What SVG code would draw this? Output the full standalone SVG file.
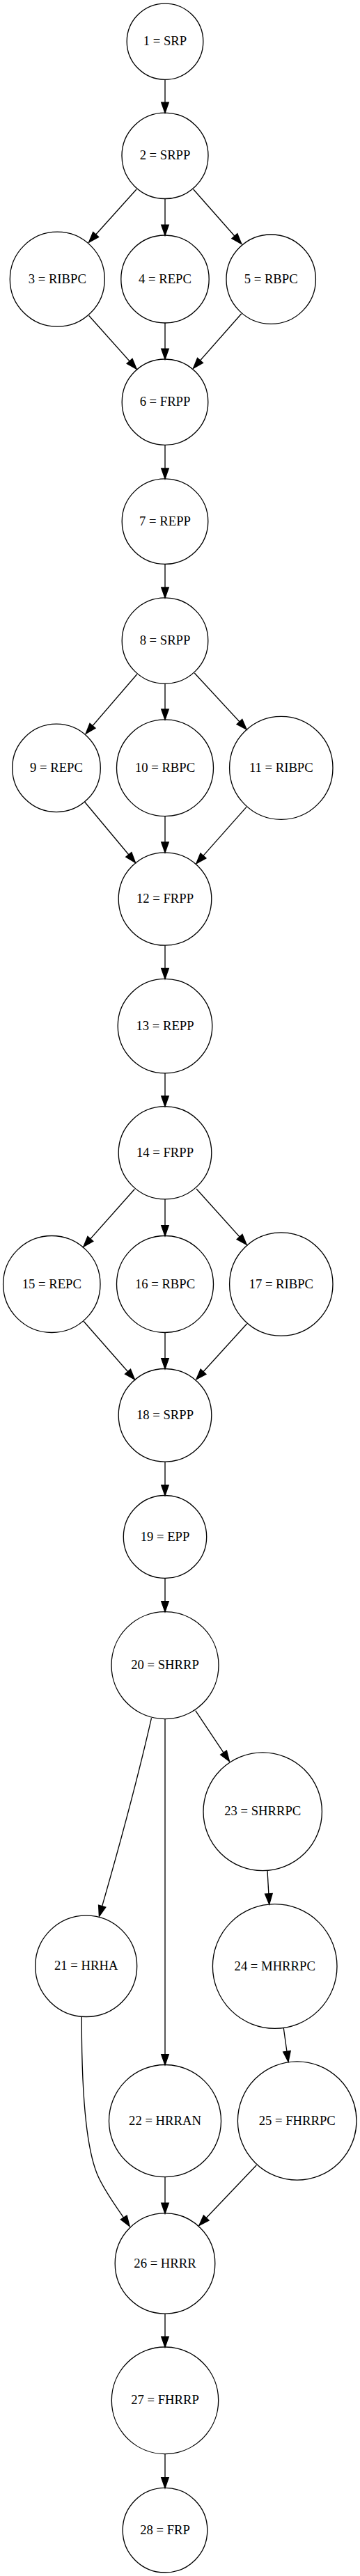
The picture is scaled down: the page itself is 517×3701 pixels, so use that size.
<svg xmlns="http://www.w3.org/2000/svg" width="517" height="3701" viewBox="0 0 517 3701">
<style>
.n ellipse{fill:none;stroke:#000;stroke-width:1.33}
.n text{font-family:"Liberation Serif","Times New Roman",serif;font-size:18.67px;text-anchor:middle;fill:#000}
#edges path{fill:none;stroke:#000;stroke-width:1.33;marker-end:url(#arr)}
</style>
<defs>
<marker id="arr" markerUnits="userSpaceOnUse" markerWidth="20" markerHeight="16" viewBox="-2 -2 18 14" refX="13.3" refY="4.67" orient="auto" overflow="visible">
<path d="M0,0 L13.3,4.67 L0,9.33 Z" fill="#000" stroke="#000" stroke-width="1.33"/>
</marker>
</defs>
<rect width="517" height="3701" fill="#fff"/>
<g id="edges">
<path d="M237,114.3 L237,162.1"/>
<path d="M196,272 L127.7,348"/>
<path d="M237,285.5 L237,338"/>
<path d="M277.7,272 L346.7,350.3"/>
<path d="M127.7,453.5 L196,530"/>
<path d="M237,463.8 L237,516"/>
<path d="M346.7,450.8 L277.7,529"/>
<path d="M237,639.3 L237,687.7"/>
<path d="M237,810.5 L237,858.8"/>
<path d="M196.7,968.8 L123.3,1054"/>
<path d="M237,982.2 L237,1033.8"/>
<path d="M279.3,967 L354,1047.8"/>
<path d="M121.7,1152.2 L194.3,1239.3"/>
<path d="M237,1172.8 L237,1224.8"/>
<path d="M354,1159.4 L282,1240.6"/>
<path d="M237,1358.2 L237,1406.3"/>
<path d="M237,1542 L237,1589.6"/>
<path d="M193.3,1708.5 L120,1791"/>
<path d="M237,1723 L237,1775.4"/>
<path d="M282,1708 L354,1788"/>
<path d="M120,1898.2 L193.3,1981.7"/>
<path d="M237,1914.5 L237,1966.5"/>
<path d="M354.7,1901.8 L282,1981.7"/>
<path d="M237,2100.1 L237,2148.4"/>
<path d="M237,2267.6 L237,2315.6"/>
<path d="M217.5,2468.3 C196,2563 170,2658 142.5,2753"/>
<path d="M237,2469.6 L237,2966.5"/>
<path d="M280.7,2457.6 L329.3,2530.4"/>
<path d="M384,2687.5 L386.7,2735.7"/>
<path d="M117.3,2897.6 C117,2990 122,3080 139.3,3123 C149.7,3148.8 173.1,3178.9 186,3198.3"/>
<path d="M407.3,2914 L414,2962"/>
<path d="M237,3127.7 L237,3180"/>
<path d="M368.3,3110.7 L286,3197.3"/>
<path d="M237,3324.1 L237,3372.1"/>
<path d="M237,3525.5 L237,3574.4"/>
</g>
<g id="n1" class="n"><ellipse cx="237" cy="59.7" rx="54.8" ry="54.6"/><text x="237" y="65.3">1 = SRP</text></g>
<g id="n2" class="n"><ellipse cx="237" cy="223.8" rx="62" ry="61.7"/><text x="237" y="229.4">2 = SRPP</text></g>
<g id="n3" class="n"><ellipse cx="82.3" cy="401.2" rx="68" ry="68"/><text x="82.3" y="406.8">3 = RIBPC</text></g>
<g id="n4" class="n"><ellipse cx="237" cy="401" rx="63.2" ry="63"/><text x="237" y="406.6">4 = REPC</text></g>
<g id="n5" class="n"><ellipse cx="389.2" cy="401.2" rx="64.2" ry="64.2"/><text x="389.2" y="406.8">5 = RBPC</text></g>
<g id="n6" class="n"><ellipse cx="237" cy="577.7" rx="61.8" ry="61.7"/><text x="237" y="583.3">6 = FRPP</text></g>
<g id="n7" class="n"><ellipse cx="237" cy="749.2" rx="61.8" ry="61.3"/><text x="237" y="754.8">7 = REPP</text></g>
<g id="n8" class="n"><ellipse cx="237" cy="920.5" rx="61.8" ry="61.7"/><text x="237" y="926.1">8 = SRPP</text></g>
<g id="n9" class="n"><ellipse cx="81" cy="1103.4" rx="63.3" ry="63.2"/><text x="81" y="1109">9 = REPC</text></g>
<g id="n10" class="n"><ellipse cx="237" cy="1103.3" rx="69.5" ry="69.4"/><text x="237" y="1108.9">10 = RBPC</text></g>
<g id="n11" class="n"><ellipse cx="403.8" cy="1103.3" rx="74.2" ry="74"/><text x="403.8" y="1108.9">11 = RIBPC</text></g>
<g id="n12" class="n"><ellipse cx="237" cy="1291.5" rx="66.8" ry="66.7"/><text x="237" y="1297.1">12 = FRPP</text></g>
<g id="n13" class="n"><ellipse cx="237" cy="1474.1" rx="67.8" ry="67.8"/><text x="237" y="1479.7">13 = REPP</text></g>
<g id="n14" class="n"><ellipse cx="237" cy="1656.3" rx="66.8" ry="66.6"/><text x="237" y="1661.9">14 = FRPP</text></g>
<g id="n15" class="n"><ellipse cx="74.3" cy="1845" rx="69.7" ry="69.5"/><text x="74.3" y="1850.6">15 = REPC</text></g>
<g id="n16" class="n"><ellipse cx="237" cy="1845" rx="69.5" ry="69.5"/><text x="237" y="1850.6">16 = RBPC</text></g>
<g id="n17" class="n"><ellipse cx="403.8" cy="1845" rx="74.2" ry="74.2"/><text x="403.8" y="1850.6">17 = RIBPC</text></g>
<g id="n18" class="n"><ellipse cx="237" cy="2033.3" rx="66.8" ry="66.8"/><text x="237" y="2038.9">18 = SRPP</text></g>
<g id="n19" class="n"><ellipse cx="237" cy="2208" rx="59.7" ry="59.5"/><text x="237" y="2213.6">19 = EPP</text></g>
<g id="n20" class="n"><ellipse cx="237" cy="2392.6" rx="77" ry="77"/><text x="237" y="2398.2">20 = SHRRP</text></g>
<g id="n21" class="n"><ellipse cx="123.7" cy="2824.8" rx="73" ry="72.7"/><text x="123.7" y="2830.4">21 = HRHA</text></g>
<g id="n22" class="n"><ellipse cx="237" cy="3047.1" rx="80.5" ry="80.6"/><text x="237" y="3052.7">22 = HRRAN</text></g>
<g id="n23" class="n"><ellipse cx="377.2" cy="2602.7" rx="85.2" ry="84.9"/><text x="377.2" y="2608.3">23 = SHRRPC</text></g>
<g id="n24" class="n"><ellipse cx="394.7" cy="2825" rx="89.3" ry="89.3"/><text x="394.7" y="2830.6">24 = MHRRPC</text></g>
<g id="n25" class="n"><ellipse cx="426.7" cy="3047" rx="85.3" ry="85.1"/><text x="426.7" y="3052.6">25 = FHRRPC</text></g>
<g id="n26" class="n"><ellipse cx="237" cy="3252" rx="71.8" ry="72.1"/><text x="237" y="3257.6">26 = HRRR</text></g>
<g id="n27" class="n"><ellipse cx="237" cy="3448.8" rx="76.7" ry="76.8"/><text x="237" y="3454.4">27 = FHRRP</text></g>
<g id="n28" class="n"><ellipse cx="237" cy="3635.2" rx="60.8" ry="60.8"/><text x="237" y="3640.8">28 = FRP</text></g>
</svg>
